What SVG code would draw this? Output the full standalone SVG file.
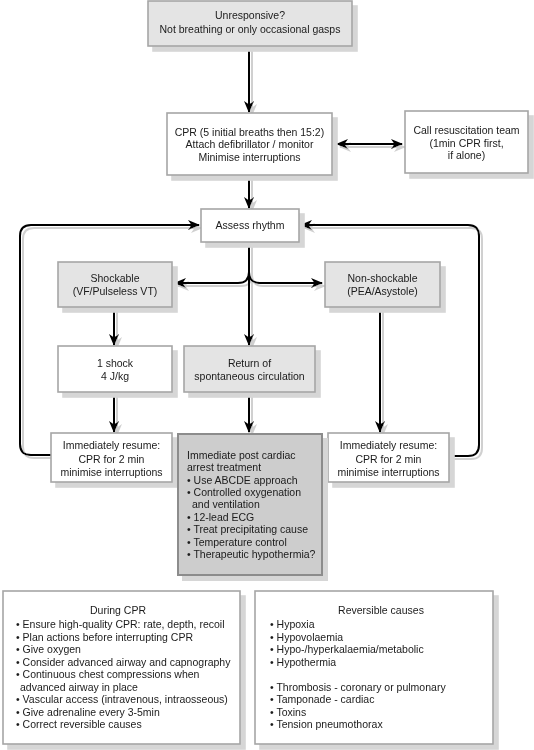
<svg xmlns="http://www.w3.org/2000/svg" width="534" height="750" viewBox="0 0 534 750">
<style>
  .box { fill: #ffffff; stroke: #a6a6a6; stroke-width: 1.6; }
  .grey { fill: #e4e4e4; stroke: #a6a6a6; stroke-width: 1.6; }
  .dark { fill: #cdcdcd; stroke: #8c8c8c; stroke-width: 2; }
  text { font-family: "Liberation Sans", Arial, sans-serif; font-size: 10.5px; fill: #1a1a1a; }
  .c { text-anchor: middle; }
  .ln { fill: none; stroke: #000; stroke-width: 2; }
</style>
<defs>
  <marker id="ah" viewBox="0 0 12 10" refX="11" refY="5" markerWidth="12" markerHeight="10" markerUnits="userSpaceOnUse" orient="auto-start-reverse">
    <path d="M0,0 L12,5 L0,10 L3.5,5 Z" fill="#000"/>
  </marker>
  <filter id="bsh" filterUnits="userSpaceOnUse" x="0" y="0" width="534" height="750">
    <feOffset in="SourceAlpha" dx="5" dy="5" result="o"/>
    <feFlood flood-color="#d6d6d6"/>
    <feComposite in2="o" operator="in"/>
    <feMerge><feMergeNode/><feMergeNode in="SourceGraphic"/></feMerge>
  </filter>
  <filter id="lsh" filterUnits="userSpaceOnUse" x="0" y="0" width="534" height="750">
    <feOffset in="SourceAlpha" dx="3" dy="3" result="o"/>
    <feFlood flood-color="#d0d0d0"/>
    <feComposite in2="o" operator="in"/>
    <feMerge><feMergeNode/><feMergeNode in="SourceGraphic"/></feMerge>
  </filter>
</defs>
<rect width="534" height="750" fill="#ffffff"/>

<g id="connectors" filter="url(#lsh)">
  <path class="ln" d="M249,46 L249,112" marker-end="url(#ah)"/>
  <path class="ln" d="M337,144 L402,144" marker-start="url(#ah)" marker-end="url(#ah)"/>
  <path class="ln" d="M249,175 L249,208" marker-end="url(#ah)"/>
  <path class="ln" d="M249,242 L249,345" marker-end="url(#ah)"/>
  <path class="ln" d="M249,272 Q249,283 238,283 L175,283" marker-end="url(#ah)"/>
  <path class="ln" d="M249,272 Q249,283 260,283 L322,283" marker-end="url(#ah)"/>
  <path class="ln" d="M114,307 L114,345" marker-end="url(#ah)"/>
  <path class="ln" d="M114,392 L114,432" marker-end="url(#ah)"/>
  <path class="ln" d="M249,392 L249,432" marker-end="url(#ah)"/>
  <path class="ln" d="M380,307 L380,432" marker-end="url(#ah)"/>
  <path class="ln" d="M51,455 L31,455 Q20,455 20,444 L20,236 Q20,225 31,225 L199,225" marker-end="url(#ah)"/>
  <path class="ln" d="M449,456 L468,456 Q479,456 479,445 L479,236 Q479,225 468,225 L301,225" marker-end="url(#ah)"/>
</g>

<g id="n-unresponsive" filter="url(#bsh)">
  <rect class="grey" x="148" y="1" width="204" height="45"/>
  <text class="c" x="250" y="19">Unresponsive?</text>
  <text class="c" x="250" y="33">Not breathing or only occasional gasps</text>
</g>

<g id="n-cpr" filter="url(#bsh)">
  <rect class="box" x="167" y="113" width="165" height="62"/>
  <text class="c" x="249.5" y="135.5">CPR (5 initial breaths then 15:2)</text>
  <text class="c" x="249.5" y="148">Attach defibrillator / monitor</text>
  <text class="c" x="249.5" y="160.5">Minimise interruptions</text>
</g>

<g id="n-call" filter="url(#bsh)">
  <rect class="box" x="405" y="111" width="123" height="62"/>
  <text class="c" x="466.5" y="134">Call resuscitation team</text>
  <text class="c" x="466.5" y="146.5">(1min CPR first,</text>
  <text class="c" x="466.5" y="159">if alone)</text>
</g>

<g id="n-assess" filter="url(#bsh)">
  <rect class="box" x="201" y="209" width="98" height="33"/>
  <text class="c" x="250" y="229">Assess rhythm</text>
</g>

<g id="n-shockable" filter="url(#bsh)">
  <rect class="grey" x="58" y="262" width="114" height="45"/>
  <text class="c" x="115" y="282">Shockable</text>
  <text class="c" x="115" y="295">(VF/Pulseless VT)</text>
</g>

<g id="n-nonshockable" filter="url(#bsh)">
  <rect class="grey" x="325" y="262" width="115" height="45"/>
  <text class="c" x="382.5" y="282">Non-shockable</text>
  <text class="c" x="382.5" y="295">(PEA/Asystole)</text>
</g>

<g id="n-shock" filter="url(#bsh)">
  <rect class="box" x="58" y="346" width="114" height="46"/>
  <text class="c" x="115" y="367">1 shock</text>
  <text class="c" x="115" y="380">4 J/kg</text>
</g>

<g id="n-rosc" filter="url(#bsh)">
  <rect class="grey" x="184" y="346" width="131" height="46"/>
  <text class="c" x="249.5" y="367">Return of</text>
  <text class="c" x="249.5" y="380">spontaneous circulation</text>
</g>

<g id="n-resume-left" filter="url(#bsh)">
  <rect class="box" x="51" y="433" width="121" height="49"/>
  <text class="c" x="111.5" y="449">Immediately resume:</text>
  <text class="c" x="111.5" y="462.5">CPR for 2 min</text>
  <text class="c" x="111.5" y="476">minimise interruptions</text>
</g>

<g id="n-resume-right" filter="url(#bsh)">
  <rect class="box" x="328" y="433" width="121" height="49"/>
  <text class="c" x="388.5" y="449">Immediately resume:</text>
  <text class="c" x="388.5" y="462.5">CPR for 2 min</text>
  <text class="c" x="388.5" y="476">minimise interruptions</text>
</g>

<g id="n-post-arrest" filter="url(#bsh)">
  <rect class="dark" x="178" y="434" width="144" height="141"/>
  <text x="187" y="458.5">Immediate post cardiac</text>
  <text x="187" y="471">arrest treatment</text>
  <text x="187" y="483.5">• Use ABCDE approach</text>
  <text x="187" y="495.5">• Controlled oxygenation</text>
  <text x="192" y="508">and ventilation</text>
  <text x="187" y="520.5">• 12-lead ECG</text>
  <text x="187" y="533">• Treat precipitating cause</text>
  <text x="187" y="545.5">• Temperature control</text>
  <text x="187" y="558">• Therapeutic hypothermia?</text>
</g>

<g id="n-during-cpr" filter="url(#bsh)">
  <rect class="box" x="3" y="591" width="237" height="153"/>
  <text class="c" x="118" y="613.5">During CPR</text>
  <text x="16" y="628">• Ensure high-quality CPR: rate, depth, recoil</text>
  <text x="16" y="640.5">• Plan actions before interrupting CPR</text>
  <text x="16" y="653">• Give oxygen</text>
  <text x="16" y="665.5">• Consider advanced airway and capnography</text>
  <text x="16" y="678">• Continuous chest compressions when</text>
  <text x="20" y="690.5">advanced airway in place</text>
  <text x="16" y="703">• Vascular access (intravenous, intraosseous)</text>
  <text x="16" y="715.5">• Give adrenaline every 3-5min</text>
  <text x="16" y="728">• Correct reversible causes</text>
</g>

<g id="n-reversible" filter="url(#bsh)">
  <rect class="box" x="255" y="591" width="238" height="153"/>
  <text class="c" x="381" y="613.5">Reversible causes</text>
  <text x="270" y="628">• Hypoxia</text>
  <text x="270" y="640.5">• Hypovolaemia</text>
  <text x="270" y="653">• Hypo-/hyperkalaemia/metabolic</text>
  <text x="270" y="665.5">• Hypothermia</text>
  <text x="270" y="690.5">• Thrombosis - coronary or pulmonary</text>
  <text x="270" y="703">• Tamponade - cardiac</text>
  <text x="270" y="715.5">• Toxins</text>
  <text x="270" y="728">• Tension pneumothorax</text>
</g>
</svg>
